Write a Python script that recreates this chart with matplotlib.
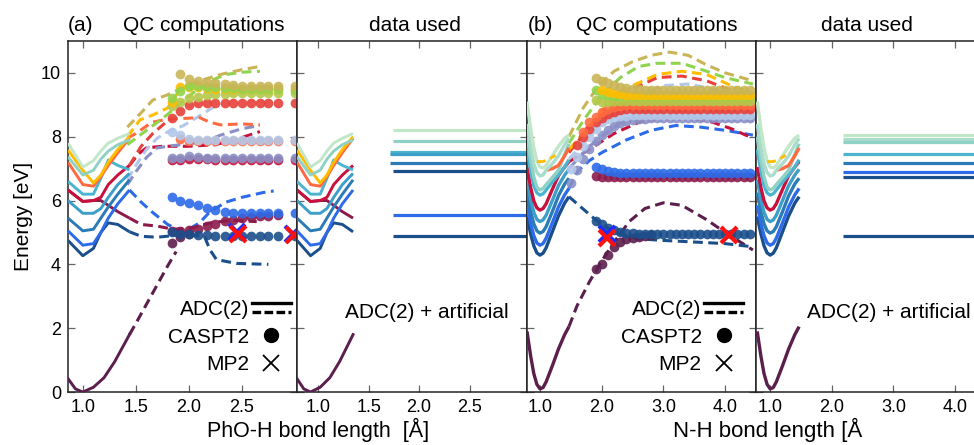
import numpy as np
import matplotlib
matplotlib.use('Agg')
import matplotlib.pyplot as plt
from matplotlib.lines import Line2D
from matplotlib.legend_handler import HandlerBase

plt.rcParams['font.family'] = ['Liberation Sans', 'DejaVu Sans']

nan = np.nan

# colours of the electronic states
purple = '#5b1f4e'
maroon = '#8c1a4b'
crimson = '#c8103c'
darkblue = '#1b4f8c'
blue = '#2d6be8'
steel = '#2b7bb6'
teal = '#3d9fc9'
teal2 = '#4db4d0'
lightteal = '#8fd1c4'
paleteal = '#a9dccb'
palegreen = '#c2e6c8'
gold = '#ffbd00'
orangered = '#ff6a40'
red = '#e8403a'
lightblue = '#b3c8ea'
lavender = '#8a90c6'
khaki = '#c9b556'
lime = '#8fd44f'
ygreen = '#b5c84a'

# ---------------- (a) PhO-H ----------------
# ADC(2) near equilibrium (solid)
a_sol_x = [0.86, 1.00, 1.10, 1.17, 1.24, 1.33, 1.44]
a_sol_darkblue = [4.75, 4.27, 4.50, 5.00, 5.30, 5.25, 5.02]
a_sol_blue = [5.05, 4.60, 4.65, 5.00, 5.45, 5.90, 6.33]
a_sol_steel = [5.45, 5.05, 5.10, 5.45, 5.80, 6.20, 6.65]
a_sol_teal = [6.00, 5.60, 5.60, 5.75, 6.10, 6.50, 6.85]
a_sol_maroon = [6.33, 5.97, 6.00, 6.00, 5.85, 5.65, 5.45]
a_sol_crimson = [6.33, 5.97, 6.00, 6.10, 6.50, 6.80, 7.10]
a_sol_teal2 = [6.60, 6.20, 6.20, 6.70, 7.27, 7.10, 6.96]
a_sol_orangered = [7.20, 6.50, 6.45, 6.75, 7.10, 7.50, 7.95]
a_sol_gold = [7.58, 6.95, 6.55, 6.80, 7.20, 7.60, 8.00]
a_sol_lightteal = [7.37, 6.80, 6.95, 7.30, 7.55, 7.75, 7.90]
a_sol_palegreen = [7.80, 7.05, 7.25, 7.55, 7.80, 7.95, 8.10]
a_gs_x = [0.86, 0.93, 1.00, 1.10, 1.20, 1.30, 1.44]
a_gs_y = [0.42, 0.10, 0.00, 0.15, 0.45, 0.95, 1.80]

# ADC(2) further out (dashed)
a_dash_purple_x = [1.44, 1.50, 1.60, 1.70, 1.80, 1.88]
a_dash_purple_y = [1.80, 2.15, 2.75, 3.35, 3.95, 4.40]
a_dash_darkblue_x = [1.44, 1.55, 1.70, 1.85, 2.00, 2.15, 2.20, 2.26, 2.45, 2.75]
a_dash_darkblue_y = [5.02, 4.88, 4.85, 4.90, 4.95, 4.85, 4.45, 4.15, 4.03, 4.00]
a_dash_blue_x = [1.44, 1.55, 1.65, 1.80, 1.95, 2.10, 2.20, 2.35, 2.50, 2.70, 2.80]
a_dash_blue_y = [6.33, 5.95, 5.65, 5.25, 5.00, 5.30, 5.65, 5.95, 6.10, 6.25, 6.30]
a_dash_maroon_x = [1.44, 1.55, 1.70, 1.85, 2.00, 2.20, 2.40, 2.64]
a_dash_maroon_y = [5.45, 5.25, 5.20, 5.10, 5.12, 5.30, 5.38, 5.34]
a_dash_crimson_x = [1.44, 1.52, 1.60, 1.75, 2.00, 2.25, 2.45, 2.67]
a_dash_crimson_y = [7.10, 7.45, 7.65, 7.70, 7.70, 7.75, 7.92, 8.16]
a_dash_lavender_x = [1.42, 1.50, 1.60, 1.70, 1.85, 2.00, 2.15, 2.30, 2.50, 2.67]
a_dash_lavender_y = [6.50, 6.90, 7.35, 7.65, 7.72, 7.78, 7.85, 8.05, 8.25, 8.35]
a_dash_lightblue_x = [1.42, 1.50, 1.60, 1.70, 1.80, 1.95, 2.10, 2.29]
a_dash_lightblue_y = [6.65, 7.10, 7.60, 7.95, 8.15, 8.35, 8.65, 9.05]
a_dash_red_x = [1.44, 1.55, 1.66, 1.79, 1.84]
a_dash_red_y = [7.10, 7.70, 8.10, 8.47, 8.58]
a_dash_orangered_x = [1.42, 1.50, 1.65, 1.80, 2.00, 2.10, 2.20, 2.30, 2.50, 2.67]
a_dash_orangered_y = [7.95, 8.10, 8.45, 8.55, 8.58, 8.60, 8.45, 8.37, 8.40, 8.37]
a_dash_gold_x = [1.42, 1.54, 1.66, 1.80, 1.92]
a_dash_gold_y = [8.00, 8.53, 8.68, 8.90, 9.50]
a_dash_lime_x = [1.42, 1.50, 1.60, 1.71, 1.80, 1.90, 2.05, 2.20, 2.35, 2.50, 2.67]
a_dash_lime_y = [7.75, 7.95, 8.20, 8.47, 8.70, 9.00, 9.40, 9.75, 9.95, 10.02, 10.05]
a_dash_khaki_x = [1.42, 1.55, 1.66, 1.79, 1.92, 2.10, 2.30, 2.50, 2.67]
a_dash_khaki_y = [8.30, 8.75, 9.15, 9.30, 9.50, 9.75, 9.95, 10.10, 10.20]

# CASPT2 (dots)
a_grid = [1.84, 1.92, 2.00, 2.09, 2.17, 2.25, 2.34, 2.42, 2.50, 2.59, 2.67, 2.75, 2.84, 3.00]
a_dot_purple = [4.68, 4.85, 4.95, nan, nan, nan, nan, nan, nan, nan, nan, nan, nan, nan]
a_dot_maroon = [5.05, 5.05, 5.08, 5.12, 5.20, 5.28, 5.35, 5.40, 5.45, 5.48, 5.50, 5.52, 5.55, nan]
a_dot_darkblue = [5.00, 4.95, 4.95, 4.93, 4.92, 4.90, 4.90, 4.90, 4.90, 4.90, 4.90, 4.90, 4.90, 4.90]
a_dot_blue = [6.12, 6.00, 5.92, 5.85, 5.78, 5.70, 5.65, 5.62, 5.60, 5.60, 5.60, 5.60, 5.60, 5.60]
a_dot_crimson = [7.28, 7.28, 7.30, 7.30, 7.30, 7.28, 7.28, 7.28, 7.28, 7.28, 7.28, 7.28, 7.28, 7.28]
a_dot_lavender = [7.33, 7.33, 7.40, 7.35, 7.33, 7.33, 7.33, 7.33, 7.33, 7.33, 7.33, 7.33, 7.33, 7.33]
a_dot_orangered = [nan, 7.93, 7.88, 7.87, 7.86, 7.86, 7.86, 7.86, 7.86, 7.86, 7.86, 7.86, 7.86, 7.86]
a_dot_lightblue = [8.16, 8.05, 7.93, 7.91, 7.90, 7.90, 7.90, 7.90, 7.90, 7.90, 7.90, 7.90, 7.90, 7.90]
a_dot_red = [8.58, 8.80, 9.00, 9.05, 9.07, 9.07, 9.07, 9.07, 9.07, 9.07, 9.07, 9.07, 9.07, 9.07]
a_dot_ygreen = [8.95, 9.10, 9.20, 9.25, 9.30, 9.33, 9.35, 9.37, 9.38, 9.38, 9.38, 9.38, 9.38, 9.38]
a_dot_gold = [9.10, 9.55, 9.55, 9.55, 9.52, 9.50, 9.50, 9.50, 9.50, 9.50, 9.50, 9.50, 9.50, 9.50]
a_dot_lime = [9.20, 9.42, 9.60, 9.60, 9.56, 9.55, 9.52, 9.52, 9.50, 9.50, 9.50, 9.50, 9.50, 9.45]
a_dot_khaki = [nan, 9.95, 9.80, 9.75, 9.72, 9.68, 9.65, 9.62, 9.60, 9.60, 9.60, 9.60, 9.60, 9.60]

# MP2 (crosses)
a_mp2_x_blue = [2.45, 2.98]
a_mp2_y_blue = [5.00, 4.95]
a_mp2_x_red = [2.46, 2.99]
a_mp2_y_red = [4.96, 4.92]

# data used: constant artificial energies at large distance
a_used_start = [1.74, 1.74, 1.71, 1.71, 1.71, 1.74, 1.74, 1.74]
a_used_y = [8.20, 7.88, 7.52, 7.47, 7.17, 6.91, 5.55, 4.89]
a_used_col = [palegreen, lightteal, teal2, teal, steel, darkblue, blue, darkblue]

# ---------------- (b) N-H ----------------
b_sol_x = [0.79, 0.85, 0.90, 0.95, 1.00, 1.05, 1.10, 1.20, 1.30, 1.40, 1.47]
b_sol_darkblue = [5.50, 4.95, 4.58, 4.36, 4.29, 4.35, 4.52, 5.02, 5.52, 5.92, 6.12]
b_sol_blue = [5.85, 5.28, 4.90, 4.67, 4.60, 4.65, 4.82, 5.30, 5.80, 6.18, 6.38]
b_sol_steel = [6.25, 5.65, 5.27, 5.05, 4.98, 5.03, 5.18, 5.65, 6.15, 6.52, 6.70]
b_sol_teal = [6.65, 6.03, 5.63, 5.41, 5.34, 5.39, 5.54, 6.00, 6.47, 6.80, 6.98]
b_sol_crimson = [7.05, 6.40, 5.99, 5.77, 5.70, 5.75, 5.90, 6.35, 6.78, 7.05, 7.22]
b_sol_teal2 = [7.60, 6.92, 6.47, 6.24, 6.17, 6.21, 6.33, 6.58, 6.80, 7.05, 7.28]
b_sol_lightteal = [8.00, 7.25, 6.75, 6.42, 6.33, 6.38, 6.50, 6.72, 6.95, 7.45, 7.78]
b_sol_orangered = [nan, nan, nan, nan, nan, nan, 6.95, 7.00, 7.10, 7.40, 7.65]
b_sol_paleteal = [8.40, 7.65, 7.15, 6.88, 6.77, 6.80, 6.95, 7.15, 7.40, 7.75, 7.95]
b_sol_palegreen = [9.10, 8.25, 7.65, 7.25, 7.05, 7.02, 7.10, 7.40, 7.70, 7.95, 8.05]
b_sol_purple = [1.90, 1.12, 0.58, 0.24, 0.10, 0.14, 0.32, 0.82, 1.35, 1.80, 2.05]
b_gold_x = [0.95, 1.05, 1.15, 1.25]
b_gold_y = [7.22, 7.22, 7.30, 7.42]

b_dash_purple_x = [1.47, 1.60, 1.80, 2.00, 2.20, 2.45, 2.70, 3.00, 3.30, 3.70, 4.00, 4.45]
b_dash_purple_y = [2.05, 2.70, 3.45, 4.10, 4.70, 5.35, 5.75, 5.93, 5.85, 5.40, 5.00, 4.45]
b_dash_darkblue_x = [1.47, 1.75, 1.90, 2.20, 2.60, 3.00, 3.50, 4.00, 4.45]
b_dash_darkblue_y = [6.12, 5.65, 5.40, 5.00, 4.80, 4.75, 4.70, 4.65, 4.55]
b_dash_blue_x = [1.47, 1.60, 1.80, 2.00, 2.40, 2.80, 3.20, 3.60, 4.00, 4.45]
b_dash_blue_y = [6.38, 6.90, 7.25, 7.50, 7.90, 8.20, 8.35, 8.30, 8.20, 8.05]
b_dash_crimson_x = [1.47, 1.80, 2.20, 2.60, 3.00, 3.40, 3.80, 4.10, 4.45]
b_dash_crimson_y = [7.22, 7.60, 8.10, 8.45, 8.60, 8.60, 8.45, 8.25, 7.95]
b_dash_lavender_x = [1.47, 1.80, 2.20, 2.60, 3.00, 3.40, 3.80, 4.20, 4.45]
b_dash_lavender_y = [7.00, 7.70, 8.30, 8.75, 8.95, 9.00, 8.90, 8.60, 8.50]
b_dash_lightblue_x = [1.47, 1.80, 2.20, 2.60, 3.00, 3.40, 3.80, 4.20, 4.45]
b_dash_lightblue_y = [7.30, 8.00, 8.70, 9.30, 9.60, 9.65, 9.50, 9.25, 9.10]
b_dash_red_x = [1.47, 1.80, 2.10, 2.50, 2.90, 3.30, 3.70, 4.10, 4.45]
b_dash_red_y = [7.50, 8.30, 8.90, 9.50, 9.85, 9.90, 9.75, 9.45, 9.20]
b_dash_gold_x = [1.47, 1.80, 2.10, 2.50, 2.90, 3.30, 3.70, 4.10, 4.45]
b_dash_gold_y = [7.60, 8.30, 9.05, 9.60, 9.95, 10.05, 9.95, 9.60, 9.35]
b_dash_lime_x = [1.47, 1.70, 2.00, 2.30, 2.60, 2.90, 3.30, 3.70, 4.00, 4.45]
b_dash_lime_y = [7.80, 8.50, 9.30, 9.85, 10.20, 10.30, 10.30, 10.05, 9.85, 9.65]
b_dash_khaki_x = [1.47, 1.70, 1.95, 2.20, 2.50, 2.80, 3.10, 3.40, 3.70, 4.00, 4.45]
b_dash_khaki_y = [8.00, 8.90, 9.60, 10.05, 10.35, 10.55, 10.65, 10.55, 10.25, 10.00, 9.75]

b_grid = [1.5, 1.6, 1.7, 1.8, 1.9, 2.0, 2.1, 2.2, 2.3, 2.4, 2.5, 2.6, 2.7, 2.8, 2.9,
          3.0, 3.1, 3.2, 3.3, 3.4, 3.5, 3.6, 3.7, 3.8, 3.9, 4.0, 4.1, 4.2, 4.3, 4.4]
b_dot_purple = [nan, nan, nan, nan, 3.85, 4.00, 4.28, 4.55, 4.70, 4.78, 4.83, 4.87, 4.90, 4.92, nan,
                nan, nan, nan, nan, nan, nan, nan, nan, nan, nan, nan, nan, nan, nan, nan]
b_dot_darkblue = [nan, nan, nan, nan, 5.36, 5.25, 5.14, 5.07, 5.02, 4.99, 4.97, 4.96, 4.95, 4.95, 4.95,
                  4.95, 4.95, 4.95, 4.95, 4.95, 4.95, 4.95, 4.95, 4.95, 4.95, 4.95, 4.95, 4.95, 4.95, 4.95]
b_dot_maroon = [nan, nan, nan, nan, 6.78, 6.75, 6.74, 6.73, 6.73, 6.73, 6.73, 6.73, 6.73, 6.73, 6.73,
                6.73, 6.73, 6.73, 6.73, 6.73, 6.73, 6.73, 6.73, 6.73, 6.73, 6.73, 6.73, 6.73, 6.73, 6.73]
b_dot_blue = [nan, nan, nan, nan, 7.06, 6.98, 6.93, 6.90, 6.87, 6.86, 6.85, 6.85, 6.85, 6.85, 6.85,
              6.85, 6.85, 6.85, 6.85, 6.85, 6.85, 6.85, 6.85, 6.85, 6.85, 6.85, 6.85, 6.85, 6.85, 6.85]
b_dot_lavender = [6.55, 6.95, 7.30, 7.60, 7.85, 8.05, 8.20, 8.32, 8.42, 8.48, 8.52, 8.55, 8.57, 8.58, 8.58,
                  8.58, 8.58, 8.58, 8.58, 8.58, 8.58, 8.58, 8.58, 8.58, 8.58, 8.58, 8.58, 8.58, 8.58, 8.58]
b_dot_lightblue = [7.00, 7.35, 7.70, 8.00, 8.25, 8.45, 8.55, 8.62, 8.65, 8.66, 8.67, 8.67, 8.67, 8.67, 8.67,
                   8.67, 8.67, 8.67, 8.67, 8.67, 8.67, 8.67, 8.67, 8.67, 8.67, 8.67, 8.67, 8.67, 8.67, 8.67]
b_dot_red = [nan, 7.75, 8.00, 8.25, 8.45, 8.58, 8.70, 8.78, 8.83, 8.86, 8.88, 8.88, 8.88, 8.88, 8.88,
             8.88, 8.88, 8.88, 8.88, 8.88, 8.88, 8.88, 8.88, 8.88, 8.88, 8.88, 8.88, 8.88, 8.88, 8.88]
b_dot_orangered = [nan, nan, 8.15, 8.45, 8.62, 8.78, 8.88, 8.93, 8.96, 8.98, 9.00, 9.00, 9.00, 9.00, 9.00,
                   9.00, 9.00, 9.00, 9.00, 9.00, 9.00, 9.00, 9.00, 9.00, 9.00, 9.00, 9.00, 9.00, 9.00, 9.00]
b_dot_ygreen = [nan, nan, nan, nan, 9.15, 9.10, 9.10, 9.11, 9.12, 9.12, 9.12, 9.12, 9.12, 9.12, 9.12,
                9.12, 9.12, 9.12, 9.12, 9.12, 9.12, 9.12, 9.12, 9.12, 9.12, 9.12, 9.12, 9.12, 9.12, 9.12]
b_dot_lime = [nan, nan, nan, nan, 9.47, 9.35, 9.30, 9.28, 9.27, 9.26, 9.26, 9.26, 9.26, 9.26, 9.26,
              9.26, 9.26, 9.26, 9.26, 9.26, 9.26, 9.26, 9.26, 9.26, 9.26, 9.26, 9.26, 9.26, 9.26, 9.26]
b_dot_gold = [nan, nan, nan, nan, nan, 9.45, 9.40, 9.36, 9.33, 9.32, 9.31, 9.31, 9.31, 9.31, 9.31,
              9.31, 9.31, 9.31, 9.31, 9.31, 9.31, 9.31, 9.31, 9.31, 9.31, 9.31, 9.31, 9.31, 9.31, 9.31]
b_dot_khaki = [nan, nan, nan, nan, 9.85, 9.75, 9.68, 9.62, 9.57, 9.53, 9.50, 9.48, 9.47, 9.46, 9.46,
               9.45, 9.45, 9.45, 9.45, 9.45, 9.45, 9.45, 9.45, 9.45, 9.45, 9.45, 9.45, 9.45, 9.45, 9.45]

b_mp2_x_blue = [2.09]
b_mp2_y_blue = [4.95]
b_mp2_x_red = [2.08, 4.07]
b_mp2_y_red = [4.84, 4.92]

b_used_start = 2.18
b_used_y = [8.06, 7.92, 7.82, 7.45, 7.17, 6.90, 6.75, 4.89]
b_used_col = [palegreen, paleteal, lightteal, teal2, steel, blue, darkblue, darkblue]

# tables for plotting
a_solid = [(maroon, a_sol_maroon), (darkblue, a_sol_darkblue), (blue, a_sol_blue),
           (steel, a_sol_steel), (teal, a_sol_teal), (crimson, a_sol_crimson),
           (teal2, a_sol_teal2), (orangered, a_sol_orangered), (gold, a_sol_gold),
           (lightteal, a_sol_lightteal), (palegreen, a_sol_palegreen)]
a_dashed = [(purple, a_dash_purple_x, a_dash_purple_y),
            (darkblue, a_dash_darkblue_x, a_dash_darkblue_y),
            (blue, a_dash_blue_x, a_dash_blue_y),
            (maroon, a_dash_maroon_x, a_dash_maroon_y),
            (crimson, a_dash_crimson_x, a_dash_crimson_y),
            (lavender, a_dash_lavender_x, a_dash_lavender_y),
            (lightblue, a_dash_lightblue_x, a_dash_lightblue_y),
            (red, a_dash_red_x, a_dash_red_y),
            (orangered, a_dash_orangered_x, a_dash_orangered_y),
            (gold, a_dash_gold_x, a_dash_gold_y),
            (lime, a_dash_lime_x, a_dash_lime_y),
            (khaki, a_dash_khaki_x, a_dash_khaki_y)]
a_dots = [(purple, a_dot_purple), (maroon, a_dot_maroon), (darkblue, a_dot_darkblue),
          (blue, a_dot_blue), (crimson, a_dot_crimson), (lavender, a_dot_lavender),
          (orangered, a_dot_orangered), (lightblue, a_dot_lightblue), (red, a_dot_red),
          (ygreen, a_dot_ygreen), (gold, a_dot_gold), (lime, a_dot_lime), (khaki, a_dot_khaki)]

b_solid = [(darkblue, b_sol_darkblue), (blue, b_sol_blue), (steel, b_sol_steel),
           (teal, b_sol_teal), (crimson, b_sol_crimson), (teal2, b_sol_teal2),
           (lightteal, b_sol_lightteal), (orangered, b_sol_orangered),
           (paleteal, b_sol_paleteal), (palegreen, b_sol_palegreen), (purple, b_sol_purple)]
b_dashed = [(purple, b_dash_purple_x, b_dash_purple_y),
            (darkblue, b_dash_darkblue_x, b_dash_darkblue_y),
            (blue, b_dash_blue_x, b_dash_blue_y),
            (crimson, b_dash_crimson_x, b_dash_crimson_y),
            (lavender, b_dash_lavender_x, b_dash_lavender_y),
            (lightblue, b_dash_lightblue_x, b_dash_lightblue_y),
            (red, b_dash_red_x, b_dash_red_y),
            (gold, b_dash_gold_x, b_dash_gold_y),
            (lime, b_dash_lime_x, b_dash_lime_y),
            (khaki, b_dash_khaki_x, b_dash_khaki_y)]
b_dots = [(purple, b_dot_purple), (maroon, b_dot_maroon), (darkblue, b_dot_darkblue),
          (blue, b_dot_blue), (lavender, b_dot_lavender), (lightblue, b_dot_lightblue),
          (red, b_dot_red), (orangered, b_dot_orangered), (ygreen, b_dot_ygreen),
          (lime, b_dot_lime), (gold, b_dot_gold), (khaki, b_dot_khaki)]

DASH = (0, (3.2, 1.8))


class DoubleLine(HandlerBase):
    # solid line above a dashed one, for the ADC(2) entry
    def create_artists(self, legend, orig_handle, xdescent, ydescent,
                       width, height, fontsize, trans):
        x0, x1 = -xdescent, -xdescent + width
        top = Line2D([x0, x1], [0.85 * height - ydescent] * 2, color='k', lw=2.4,
                     transform=trans)
        bot = Line2D([x0, x1], [0.2 * height - ydescent] * 2, color='k', lw=2.4,
                     ls=(0, (2.6, 1.0)), transform=trans)
        return [top, bot]


def add_legend(ax, anchor):
    adc = Line2D([], [])
    dot = Line2D([], [], ls='none', marker='o', color='k', ms=10)
    cross = Line2D([], [], ls='none', marker='x', color='k', ms=11, mew=1.3)
    ax.legend([adc, dot, cross], ['ADC(2)', 'CASPT2', 'MP2'],
              handler_map={adc: DoubleLine()}, markerfirst=False, frameon=False,
              loc='lower right', bbox_to_anchor=anchor, fontsize=15,
              handlelength=1.9, handletextpad=0.1, labelspacing=0.42,
              borderaxespad=0, borderpad=0)


def style(ax, xlim, xticks, labelleft=False):
    ax.set_xlim(*xlim)
    ax.set_ylim(0, 11)
    ax.set_xticks(xticks)
    ax.set_xticklabels([f'{t:.1f}' for t in xticks])
    ax.set_yticks([0, 2, 4, 6, 8, 10])
    ax.tick_params(direction='in', top=True, right=True, length=5, width=0.9,
                   color='#666666', labelsize=13, labelleft=labelleft, pad=5)
    for s in ax.spines.values():
        s.set_color('#222222')
        s.set_linewidth(1.1)


def draw_solids(ax, x, table, lw):
    for col, y in table:
        ax.plot(x, y, color=col, lw=lw, solid_capstyle='butt', zorder=3)


fig = plt.figure(figsize=(9.74, 4.45), dpi=100)
bot, hgt = 0.119, 0.789
ax1 = fig.add_axes([68 / 974, bot, 229 / 974, hgt])
ax2 = fig.add_axes([297 / 974, bot, 230 / 974, hgt])
ax3 = fig.add_axes([527 / 974, bot, 229 / 974, hgt])
ax4 = fig.add_axes([756 / 974, bot, 228 / 974, hgt])

# ---- panel (a) QC computations
for col, x, y in a_dashed:
    ax1.plot(x, y, color=col, lw=2.2, ls=DASH, zorder=2)
for col, y in a_dots:
    ax1.plot(a_grid, y, 'o', color=col, ms=7, mew=0, alpha=0.9, zorder=4)
draw_solids(ax1, a_sol_x, a_solid, 2.1)
ax1.plot(a_gs_x, a_gs_y, color=purple, lw=2.1, zorder=3)
ax1.plot(a_mp2_x_blue, a_mp2_y_blue, 'x', color='#1a2cff', ms=11, mew=3, zorder=5)
ax1.plot(a_mp2_x_red, a_mp2_y_red, 'x', color='#ff1010', ms=11, mew=3, zorder=6)
style(ax1, (0.86, 3.02), [1.0, 1.5, 2.0, 2.5], labelleft=True)
ax1.set_ylabel('Energy [eV]', fontsize=15, labelpad=6)
add_legend(ax1, (0.975, 0.05))

# ---- panel (a) data used
ax2s = ax2.twiny()
ax2s.set_xlim(0.86, 3.24)
ax2s.axis('off')
draw_solids(ax2s, a_sol_x, a_solid, 2.1)
ax2s.plot(a_gs_x, a_gs_y, color=purple, lw=2.1, zorder=3)
for x0, y, col in zip(a_used_start, a_used_y, a_used_col):
    ax2.hlines(y, x0, 3.2, color=col, lw=2.3)
style(ax2, (0.79, 3.07), [1.0, 1.5, 2.0, 2.5])
ax2.text(0.209, 0.212, 'ADC(2) + artificial', transform=ax2.transAxes, fontsize=15,
         ha='left', va='baseline')

# ---- panel (b) QC computations
for col, x, y in b_dashed:
    ax3.plot(x, y, color=col, lw=2.2, ls=DASH, zorder=2)
for col, y in b_dots:
    ax3.plot(b_grid, y, 'o', color=col, ms=7, mew=0, alpha=0.9, zorder=4)
draw_solids(ax3, b_sol_x, b_solid, 2.4)
ax3.plot(b_gold_x, b_gold_y, color=gold, lw=2.0, ls=DASH, zorder=3)
ax3.plot(b_mp2_x_blue, b_mp2_y_blue, 'x', color='#1a2cff', ms=11, mew=3, zorder=5)
ax3.plot(b_mp2_x_red, b_mp2_y_red, 'x', color='#ff1010', ms=11, mew=3, zorder=6)
style(ax3, (0.79, 4.50), [1.0, 2.0, 3.0, 4.0])
add_legend(ax3, (0.945, 0.05))

# ---- panel (b) data used
draw_solids(ax4, b_sol_x, b_solid, 2.4)
ax4.plot(b_gold_x, b_gold_y, color=gold, lw=2.0, ls=DASH, zorder=3)
for y, col in zip(b_used_y, b_used_col):
    ax4.hlines(y, b_used_start, 4.6, color=col, lw=2.3)
style(ax4, (0.77, 4.47), [1.0, 2.0, 3.0, 4.0])
ax4.text(0.222, 0.21, 'ADC(2) + artificial', transform=ax4.transAxes, fontsize=15,
         ha='left', va='baseline')

# panel headings
ax1.text(0.0, 1.028, '(a)', transform=ax1.transAxes, fontsize=15, ha='left', va='baseline')
ax1.text(0.592, 1.028, 'QC computations', transform=ax1.transAxes, fontsize=15,
         ha='center', va='baseline')
ax2.text(0.513, 1.028, 'data used', transform=ax2.transAxes, fontsize=15,
         ha='center', va='baseline')
ax3.text(0.004, 1.028, '(b)', transform=ax3.transAxes, fontsize=15, ha='left', va='baseline')
ax3.text(0.568, 1.028, 'QC computations', transform=ax3.transAxes, fontsize=15,
         ha='center', va='baseline')
ax4.text(0.487, 1.028, 'data used', transform=ax4.transAxes, fontsize=15,
         ha='center', va='baseline')

fig.text(207 / 974, 0.017, 'PhO-H bond length  [Å]', fontsize=15.5, ha='left', va='baseline')
fig.text(673 / 974, 0.019, 'N-H bond length [Å', fontsize=16, ha='left', va='baseline')

fig.savefig('out.png', dpi=100)
